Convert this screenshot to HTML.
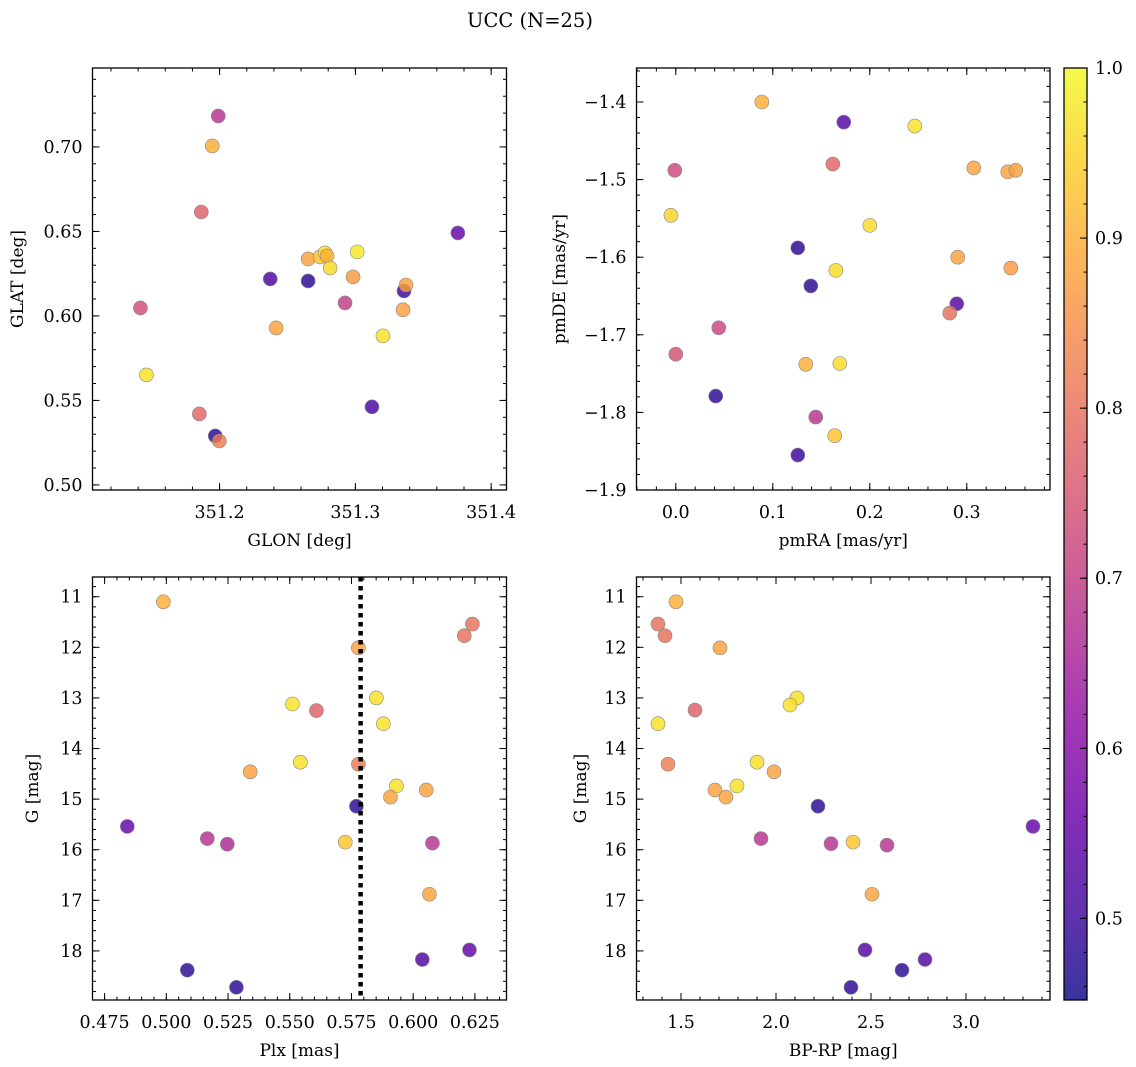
<!DOCTYPE html>
<html><head><meta charset="utf-8"><style>
html,body{margin:0;padding:0;background:#fff;}
svg{display:block;font-family:"DejaVu Serif","Liberation Serif",serif;}
</style></head><body>
<svg id="fig" width="1136" height="1067" viewBox="0 0 1136 1067">
<text x="530" y="27" text-anchor="middle" font-size="19.5">UCC (N=25)</text>
</svg>
<script>
// ---- data ----
const glon=[351.199,351.1946,351.1865,351.1417,351.1461,351.1851,351.1968,351.1998,351.2373,351.2652,351.2652,351.2417,351.274,351.2777,351.2792,351.2814,351.3013,351.2983,351.2924,351.3203,351.3122,351.3358,351.3373,351.3351,351.3755];
const glat=[0.7183,0.7006,0.6615,0.6047,0.5651,0.5420,0.5290,0.5260,0.6219,0.6207,0.6337,0.5929,0.6349,0.6373,0.6355,0.6284,0.6379,0.6231,0.6077,0.5882,0.5462,0.6148,0.6183,0.6036,0.6491];
const cTL=[0.68,0.9,0.77,0.73,0.97,0.78,0.48,0.82,0.52,0.48,0.88,0.88,0.93,0.97,0.9,0.96,0.98,0.87,0.7,0.97,0.52,0.5,0.88,0.88,0.55];
const pmra=[0.0887,0.1732,0.2464,-0.001,0.1619,0.3072,0.3423,0.3505,-0.005,0.2,0.1258,0.2907,0.3454,0.165,0.1392,0.2897,0.2825,0.0443,0,0.134,0.1691,0.0412,0.1443,0.1639,0.1258];
const pmde=[-1.400,-1.426,-1.431,-1.488,-1.480,-1.485,-1.490,-1.488,-1.546,-1.559,-1.588,-1.600,-1.614,-1.617,-1.637,-1.660,-1.672,-1.691,-1.725,-1.738,-1.737,-1.779,-1.806,-1.830,-1.855];
const cTR=[0.9,0.53,0.97,0.72,0.78,0.88,0.88,0.88,0.95,0.96,0.48,0.88,0.87,0.96,0.48,0.53,0.8,0.72,0.74,0.9,0.96,0.48,0.68,0.93,0.5];
const plx=[0.4988,0.624,0.6207,0.5778,0.5511,0.5608,0.5851,0.5879,0.534,0.5543,0.5778,0.5932,0.5908,0.6053,0.4842,0.577,0.5166,0.5247,0.5725,0.6078,0.6066,0.5085,0.5284,0.6037,0.6228];
const gBL=[11.10,11.54,11.77,12.01,13.12,13.25,13.00,13.51,14.46,14.27,14.31,14.74,14.96,14.82,15.54,15.14,15.78,15.89,15.85,15.87,16.88,18.38,18.72,18.17,17.98];
const cBL=[0.9,0.8,0.8,0.88,0.97,0.77,0.97,0.97,0.88,0.97,0.82,0.97,0.88,0.88,0.55,0.48,0.68,0.66,0.93,0.68,0.88,0.48,0.48,0.53,0.55];
const plxLine=[0.5787];
const bprp=[1.4737,1.3789,1.4158,1.7053,1.5737,2.1105,2.0737,1.3789,1.4316,1.9,1.9895,1.6789,1.7947,1.7368,2.2211,3.3526,1.9211,2.2895,2.4053,2.5842,2.5053,2.4684,2.7842,2.6632,2.3947];
const gBR=[11.10,11.54,11.77,12.01,13.24,13.00,13.14,13.51,14.31,14.27,14.46,14.82,14.74,14.96,15.14,15.54,15.78,15.88,15.85,15.91,16.88,17.98,18.17,18.38,18.72];
const cBR=[0.9,0.8,0.8,0.88,0.77,0.97,0.97,0.97,0.82,0.97,0.88,0.88,0.97,0.88,0.48,0.55,0.68,0.68,0.93,0.68,0.88,0.53,0.53,0.48,0.48];
const xticksTL=[351.2,351.3,351.4], xtlTL=["351.2","351.3","351.4"];
const yticksTL=[0.50,0.55,0.60,0.65,0.70], ytlTL=["0.50","0.55","0.60","0.65","0.70"];
const xticksTR=[0,0.1,0.2,0.3], xtlTR=["0.0","0.1","0.2","0.3"];
const yticksTR=[-1.9,-1.8,-1.7,-1.6,-1.5,-1.4], ytlTR=["−1.9","−1.8","−1.7","−1.6","−1.5","−1.4"];
const xticksBL=[0.475,0.5,0.525,0.55,0.575,0.6,0.625], xtlBL=["0.475","0.500","0.525","0.550","0.575","0.600","0.625"];
const yticksG=[11,12,13,14,15,16,17,18], ytlG=["11","12","13","14","15","16","17","18"];
const xticksBR=[1.5,2.0,2.5,3.0], xtlBR=["1.5","2.0","2.5","3.0"];
const cbTicks=[0.5,0.6,0.7,0.8,0.9,1.0], cbTl=["0.5","0.6","0.7","0.8","0.9","1.0"];
const cmin=0.452, cmax=1.0;

// ---- drawing ----
const NS="http://www.w3.org/2000/svg";
const svg=document.getElementById('fig');
function mk(tag,attrs,parent){const e=document.createElementNS(NS,tag);for(const k in attrs)e.setAttribute(k,attrs[k]);(parent||svg).appendChild(e);return e;}
const stops=[[0,[13,8,135]],[0.1,[65,4,157]],[0.2,[106,0,168]],[0.3,[143,13,164]],[0.4,[177,42,144]],[0.5,[204,71,120]],[0.6,[225,100,98]],[0.7,[242,132,75]],[0.8,[252,166,54]],[0.9,[252,206,37]],[1.0,[240,249,33]]];
function plasma(t){t=Math.max(0,Math.min(1,t));for(let i=1;i<stops.length;i++){if(t<=stops[i][0]){const a=stops[i-1],b=stops[i];const f=(t-a[0])/(b[0]-a[0]);return 'rgb('+[0,1,2].map(j=>Math.round(a[1][j]+f*(b[1][j]-a[1][j]))).join(',')+')';}}return 'rgb(240,249,33)';}
function cnorm(c){return (c-cmin)/(cmax-cmin);}
const TFS=17.5, LFS=17;

function panel(p){
  const g=mk('g',{});
  
  
  const sx=v=>p.L+(v-p.xmin)/(p.xmax-p.xmin)*(p.R-p.L);
  const sy=v=>p.B-(v-p.ybot)/(p.ytop-p.ybot)*(p.B-p.T);
  const pg=mk('g',{},g);
  
  
  for(let i=0;i<p.xs.length;i++){
    const c=mk('circle',{cx:sx(p.xs[i]),cy:sy(p.ys[i]),r:7,fill:plasma(cnorm(p.cs[i])),'fill-opacity':0.82,stroke:'#888','stroke-width':0.6},pg);
    
    
  }
  if(p.vline){for(const v of p.vline){const l=mk('line',{x1:sx(v),x2:sx(v),y1:p.T,y2:p.B,stroke:'#000','stroke-width':4.5,'stroke-dasharray':'4.5,4.5'},g);
    
    }}
  const f=mk('rect',{x:p.L,y:p.T,width:p.R-p.L,height:p.B-p.T,fill:'none',stroke:'#000','stroke-width':1.3},g);
  
  
  const tk=mk('g',{stroke:'#000','stroke-width':1},g);
  function xt(v,len){const X=sx(v);if(X<p.L-0.5||X>p.R+0.5)return;mk('line',{x1:X,x2:X,y1:p.B,y2:p.B-len},tk);mk('line',{x1:X,x2:X,y1:p.T,y2:p.T+len},tk);}
  function yt(v,len){const Y=sy(v);if(Y<p.T-0.5||Y>p.B+0.5)return;mk('line',{x1:p.L,x2:p.L+len,y1:Y,y2:Y},tk);mk('line',{x1:p.R,x2:p.R-len,y1:Y,y2:Y},tk);}
  const lo=Math.min(p.xmin,p.xmax),hi=Math.max(p.xmin,p.xmax);
  for(let v=Math.ceil(lo/p.xm)*p.xm;v<=hi;v+=p.xm)xt(v,3.5);
  const ylo=Math.min(p.ybot,p.ytop),yhi=Math.max(p.ybot,p.ytop);
  for(let v=Math.ceil(ylo/p.ym)*p.ym;v<=yhi;v+=p.ym)yt(v,3.5);
  p.xt.forEach((v,i)=>{xt(v,7);const t=mk('text',{x:sx(v),y:p.B+28,'text-anchor':'middle','font-size':TFS},g);t.textContent=p.xtl[i];
    
    });
  p.yt.forEach((v,i)=>{yt(v,7);const t=mk('text',{x:p.L-10,y:sy(v)+6,'text-anchor':'end','font-size':TFS},g);t.textContent=p.ytl[i];
    
    });
  const xl=mk('text',{x:(p.L+p.R)/2,y:p.B+56,'text-anchor':'middle','font-size':LFS},g);xl.textContent=p.xlabel;
  
  
  const yl=mk('text',{x:0,y:0,'text-anchor':'middle','font-size':LFS,transform:'translate('+p.ylx+','+((p.T+p.B)/2)+') rotate(-90)'},g);yl.textContent=p.ylabel;
  
  
}

panel({name:'glon-glat-panel',L:92.5,R:506.5,T:68,B:490,xmin:351.1064,xmax:351.4113,ybot:0.4970,ytop:0.7467,xm:0.02,ym:0.01,
  xt:xticksTL,xtl:xtlTL,yt:yticksTL,ytl:ytlTL,xlabel:'GLON [deg]',ylabel:'GLAT [deg]',ylx:23,xs:glon,ys:glat,cs:cTL});
panel({name:'pm-panel',L:636.5,R:1050,T:68,B:490,xmin:-0.0405,xmax:0.3858,ybot:-1.9,ytop:-1.3562,xm:0.02,ym:0.02,
  xt:xticksTR,xtl:xtlTR,yt:yticksTR,ytl:ytlTR,xlabel:'pmRA [mas/yr]',ylabel:'pmDE [mas/yr]',ylx:565,xs:pmra,ys:pmde,cs:cTR});
panel({name:'plx-g-panel',L:92.5,R:506.5,T:577,B:1000,xmin:0.4701,xmax:0.6378,ybot:18.97,ytop:10.61,xm:0.005,ym:0.2,
  xt:xticksBL,xtl:xtlBL,yt:yticksG,ytl:ytlG,xlabel:'Plx [mas]',ylabel:'G [mag]',ylx:38,xs:plx,ys:gBL,cs:cBL,vline:plxLine});
panel({name:'cmd-panel',L:636.5,R:1050,T:577,B:1000,xmin:1.2658,xmax:3.4421,ybot:18.97,ytop:10.61,xm:0.1,ym:0.2,
  xt:xticksBR,xtl:xtlBR,yt:yticksG,ytl:ytlG,xlabel:'BP-RP [mag]',ylabel:'G [mag]',ylx:586,xs:bprp,ys:gBR,cs:cBR});

(function(){
  const L=1064,R=1087,T=68,B=1000;
  const g=mk('g',{});
  
  
  const defs=mk('defs',{},g);
  const lg=mk('linearGradient',{id:'cbg',x1:0,y1:1,x2:0,y2:0},defs);
  for(let i=0;i<=20;i++){mk('stop',{offset:i/20,'stop-color':plasma(i/20)},lg);}
  mk('rect',{x:L,y:T,width:R-L,height:B-T,fill:'url(#cbg)','fill-opacity':0.82},g);
  mk('rect',{x:L,y:T,width:R-L,height:B-T,fill:'none',stroke:'#000','stroke-width':1.3},g);
  const sy=v=>B-(v-cmin)/(cmax-cmin)*(B-T);
  for(let v=0.46;v<=1.0001;v+=0.02){mk('line',{x1:R,x2:R-3.5,y1:sy(v),y2:sy(v),stroke:'#000'},g);}
  cbTicks.forEach((v,i)=>{mk('line',{x1:R,x2:R-7,y1:sy(v),y2:sy(v),stroke:'#000'},g);
    const t=mk('text',{x:R+8,y:sy(v)+6,'font-size':TFS},g);t.textContent=cbTl[i];
    
    });
})();
</script>
</body></html>
